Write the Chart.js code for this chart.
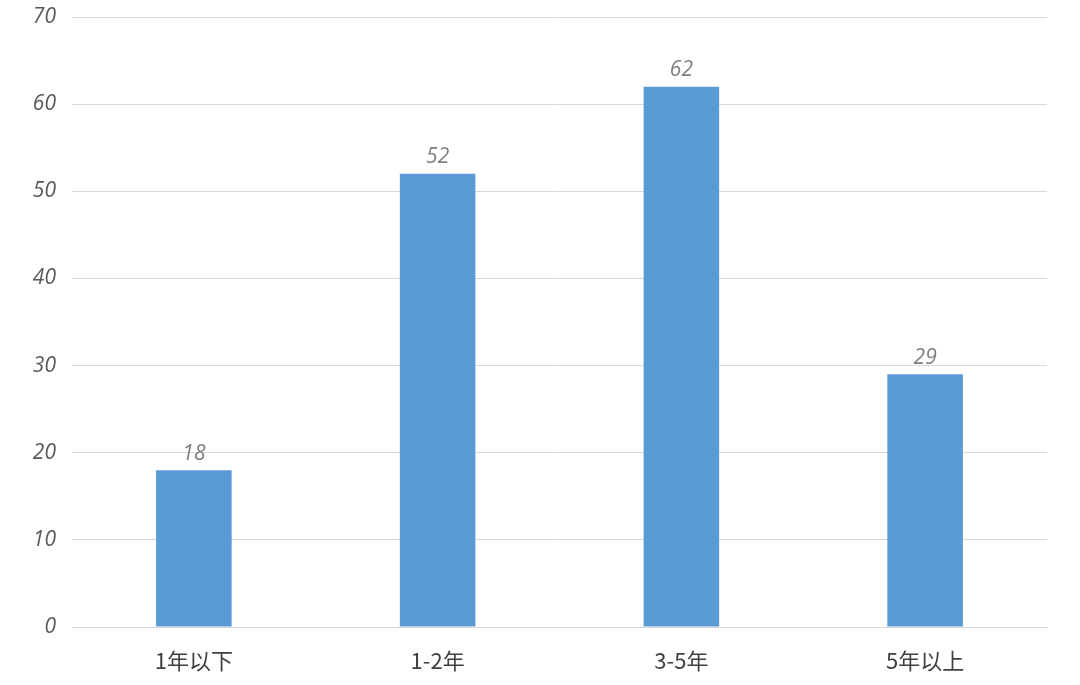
<!DOCTYPE html>
<html lang="zh">
<head>
    <meta charset="UTF-8" />
    <title>工作年限</title>
    <script src="https://cdn.jsdelivr.net/npm/chart.js"></script>
    <style>
        body { margin: 0; background: #ffffff; }
        .wrap { width: 1080px; height: 685px; }
    </style>
</head>
<body>
    <div class="wrap"><canvas id="chart" width="1080" height="685"></canvas></div>
    <script>
        const categories = ['1年以下', '1-2年', '3-5年', '5年以上'];
        const values = [18, 52, 62, 29];
        const yMax = 70;
        const yStep = 10;

        // labels above each bar
        const valueLabels = {
            id: 'valueLabels',
            afterDatasetsDraw(chart) {
                const ctx = chart.ctx;
                const meta = chart.getDatasetMeta(0);
                ctx.save();
                ctx.font = 'italic 21px "Open Sans", sans-serif';
                ctx.fillStyle = '#7f7f7f';
                ctx.textAlign = 'center';
                ctx.textBaseline = 'bottom';
                meta.data.forEach((bar, i) => {
                    ctx.fillText(values[i], bar.x, bar.y - 6);
                });
                ctx.restore();
            }
        };

        new Chart(document.getElementById('chart'), {
            type: 'bar',
            data: {
                labels: categories,
                datasets: [{
                    data: values,
                    backgroundColor: '#5b9bd5',
                    categoryPercentage: 1,
                    barPercentage: 0.31
                }]
            },
            options: {
                responsive: false,
                animation: false,
                layout: { padding: { top: 17, right: 33 } },
                plugins: {
                    legend: { display: false },
                    tooltip: { enabled: false }
                },
                scales: {
                    x: {
                        grid: { display: false },
                        border: { color: '#d9d9d9' },
                        ticks: {
                            color: '#404040',
                            padding: 12,
                            font: { family: '"Noto Sans CJK SC", sans-serif', size: 22 }
                        },
                        afterFit(scale) { scale.height = 58; }
                    },
                    y: {
                        min: 0,
                        max: yMax,
                        border: { display: false },
                        grid: { color: '#d9d9d9', drawTicks: false },
                        ticks: {
                            stepSize: yStep,
                            color: '#595959',
                            padding: 16,
                            font: { family: '"Open Sans", sans-serif', size: 21, style: 'italic' }
                        },
                        afterFit(scale) {
                            scale.width = 72;
                            scale.paddingTop = 0;
                            scale.paddingBottom = 0;
                        }
                    }
                }
            },
            plugins: [valueLabels]
        });
    </script>
</body>
</html>
